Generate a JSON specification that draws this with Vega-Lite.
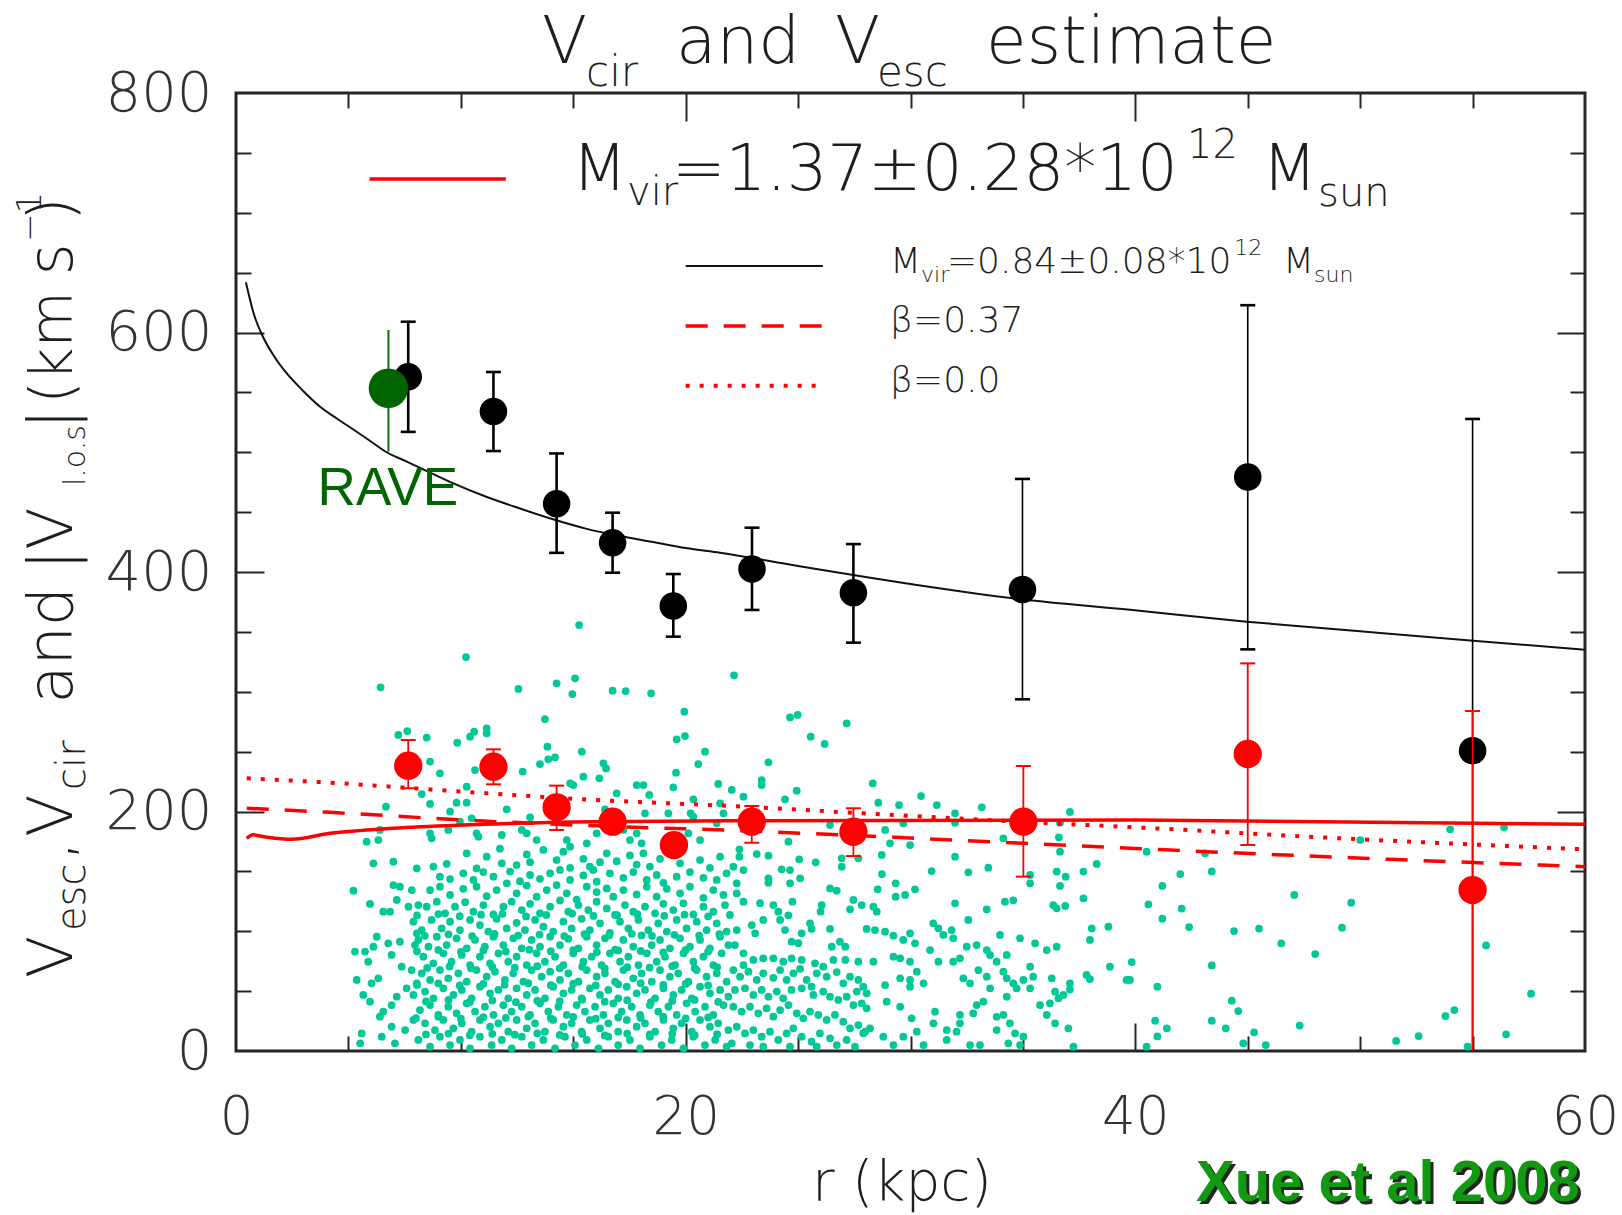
{
  "$schema": "https://vega.github.io/schema/vega-lite/v6.json",
  "width": 1349,
  "height": 958,
  "autosize": {"type": "none"},
  "padding": {"left": 236, "top": 93, "right": 37, "bottom": 164},
  "background": "white",
  "data": {"values": [{}]},
  "config": {
    "view": {"stroke": "#262626", "strokeWidth": 3},
    "text": {"font": "DejaVu Sans", "fontWeight": 200, "color": "#1e1e1e", "align": "left", "baseline": "alphabetic"}
  },
  "resolve": {"axis": {"x": "independent", "y": "independent"}},
  "datasets": {
    "stars": [
      {"r":54.0,"v":185.1},{"r":56.4,"v":186.8},{"r":50.0,"v":176.2},{"r":40.5,"v":166.4},{"r":43.1,"v":165.1},{"r":42.0,"v":147.8},{"r":43.4,"v":150.0},{"r":41.2,"v":137.8},{"r":47.07,"v":130.3},{"r":40.58,"v":122.5},{"r":42.06,"v":118.9},{"r":49.6,"v":123.9},{"r":41.2,"v":110.5},{"r":42.39,"v":103.5},{"r":49.19,"v":103.0},{"r":44.39,"v":100.2},{"r":45.5,"v":102.2},{"r":46.49,"v":89.9},{"r":48.0,"v":81.0},{"r":55.6,"v":88.2},{"r":39.84,"v":74.3},{"r":39.76,"v":59.3},{"r":43.4,"v":71.5},{"r":40.98,"v":53.7},{"r":57.6,"v":47.9},{"r":44.29,"v":42.0},{"r":44.58,"v":33.4},{"r":40.88,"v":25.3},{"r":43.4,"v":25.3},{"r":41.4,"v":18.9},{"r":40.98,"v":12.2},{"r":44.02,"v":18.9},{"r":45.28,"v":15.6},{"r":47.31,"v":21.2},{"r":44.8,"v":6.4},{"r":45.8,"v":5.0},{"r":40.5,"v":3.6},{"r":53.79,"v":29.2},{"r":54.19,"v":34.2},{"r":51.6,"v":8.4},{"r":52.6,"v":12.5},{"r":56.49,"v":13.9},{"r":54.78,"v":3.6},
      {"r":22.15,"v":313.7},{"r":24.64,"v":278.6},{"r":24.98,"v":280.6},{"r":27.16,"v":273.6},{"r":25.56,"v":262.5},{"r":26.18,"v":256.4},{"r":23.68,"v":241.1},{"r":23.38,"v":226.3},{"r":23.38,"v":222.1},{"r":28.32,"v":223.5},{"r":22.05,"v":218},{"r":24.94,"v":217.4},{"r":22.57,"v":212.4},{"r":24.42,"v":210.2},{"r":30.47,"v":212.9},{"r":28.57,"v":207.4},{"r":29.49,"v":205.4},{"r":31.17,"v":205.4},{"r":33.17,"v":203.5},{"r":37.09,"v":199.6},{"r":31.98,"v":198.5},{"r":26.42,"v":188.7},{"r":28.87,"v":184.6},{"r":29.68,"v":190.1},{"r":31.98,"v":190.7},{"r":36.65,"v":190.7},{"r":36.6,"v":178.4},{"r":34.13,"v":177.6},{"r":24.57,"v":174.8},{"r":29.09,"v":173.4},{"r":29.98,"v":172.0},{"r":31.98,"v":162.3},{"r":36.65,"v":166.4},{"r":28.72,"v":163.7},{"r":27.68,"v":160.9},{"r":26.94,"v":160.9},{"r":26.94,"v":153.9},{"r":38.28,"v":156.2},{"r":33.46,"v":153.1},{"r":30.94,"v":150.3},{"r":32.57,"v":149.2},{"r":36.5,"v":149.8},{"r":36.9,"v":145.6},{"r":36.65,"v":137.8},{"r":37.69,"v":149.8},{"r":35.32,"v":147.0},{"r":35.32,"v":140.0},{"r":28.73,"v":147.8},{"r":25.78,"v":157.6},{"r":25.05,"v":160.1},{"r":24.64,"v":151.1},{"r":24.27,"v":151.7},{"r":23.68,"v":163.1},{"r":23.16,"v":164.5},{"r":22.39,"v":168.4},{"r":22.39,"v":162.3},{"r":22.57,"v":151.1},{"r":22.12,"v":153.9},{"r":23.68,"v":144.2},{"r":23.68,"v":140.6},{"r":25.09,"v":144.2},{"r":24.64,"v":140.0},{"r":22.27,"v":140.0},{"r":22.27,"v":131.7},{"r":26.42,"v":135.8},{"r":26.72,"v":133.9},{"r":29.34,"v":140.0},{"r":30.2,"v":135.0},{"r":29.76,"v":130.3},{"r":28.54,"v":135.0},{"r":29.34,"v":128.9},{"r":27.46,"v":126.1},{"r":27.83,"v":121.9},{"r":28.35,"v":120.5},{"r":28.5,"v":116.3},{"r":26.05,"v":121.9},{"r":26.0,"v":116.3},{"r":27.31,"v":118.3},{"r":22.57,"v":124.7},{"r":23.31,"v":123.4},{"r":23.9,"v":121.9},{"r":24.12,"v":116.3},{"r":24.75,"v":124.7},{"r":24.57,"v":113.3},{"r":21.97,"v":113.6},{"r":31.98,"v":123.3},{"r":33.39,"v":118.3},{"r":34.2,"v":124.7},{"r":34.57,"v":125.8},{"r":36.35,"v":121.9},{"r":36.5,"v":119.2},{"r":36.88,"v":121.1},{"r":37.69,"v":127.5},{"r":32.57,"v":109.4},{"r":31.01,"v":106.6},{"r":31.24,"v":102.5},{"r":31.46,"v":96.9},{"r":31.83,"v":101.0},{"r":31.9,"v":94.1},{"r":29.98,"v":98.3},{"r":29.68,"v":92.7},{"r":30.2,"v":89.9},{"r":28.87,"v":99.6},{"r":29.24,"v":96.3},{"r":28.05,"v":101.9},{"r":28.42,"v":101.0},{"r":26.86,"v":91.3},{"r":27.1,"v":87.1},{"r":26.5,"v":87.1},{"r":26.42,"v":101.9},{"r":25.53,"v":106.6},{"r":25.6,"v":101.9},{"r":25.16,"v":98.3},{"r":25.01,"v":90.0},{"r":24.2,"v":109.4},{"r":24.42,"v":101.0},{"r":24.71,"v":91.3},{"r":22.94,"v":105.2},{"r":23.45,"v":109.4},{"r":23.09,"v":98.3},{"r":22.27,"v":101.0},{"r":22.19,"v":88.5},{"r":22.57,"v":81.6},{"r":33.98,"v":96.9},{"r":34.87,"v":94.1},{"r":34.28,"v":80.2},{"r":35.54,"v":89.9},{"r":36.06,"v":84.3},{"r":36.5,"v":87.1},{"r":37.98,"v":92.7},{"r":38.06,"v":102.4},{"r":38.8,"v":103.8},{"r":39.61,"v":59.3},{"r":38.87,"v":70.4},{"r":37.83,"v":63.5},{"r":37.98,"v":60.1},{"r":32.5,"v":87.1},{"r":32.94,"v":88.5},{"r":33.39,"v":84.3},{"r":33.54,"v":80.2},{"r":33.83,"v":74.6},{"r":32.2,"v":77.4},{"r":31.9,"v":74.6},{"r":31.24,"v":74.6},{"r":30.87,"v":84.3},{"r":29.24,"v":78.8},{"r":29.54,"v":77.4},{"r":29.98,"v":74.6},{"r":28.35,"v":74.6},{"r":27.68,"v":74.6},{"r":27.1,"v":76.0},{"r":26.57,"v":76.0},{"r":25.75,"v":73.2},{"r":26.12,"v":70.4},{"r":25.16,"v":76.0},{"r":24.71,"v":77.4},{"r":24.34,"v":74.6},{"r":23.9,"v":77.4},{"r":23.45,"v":77.4},{"r":23.01,"v":76.0},{"r":22.57,"v":71.8},
      {"r":34.13,"v":66.2},{"r":34.28,"v":60.7},{"r":34.57,"v":56.5},{"r":34.72,"v":52.4},{"r":34.28,"v":45.4},{"r":34.13,"v":30.1},{"r":34.42,"v":23.1},{"r":34.65,"v":14.8},{"r":35.02,"v":12.0},{"r":34.87,"v":5.0},{"r":34.35,"v":6.4},{"r":35.32,"v":70.4},{"r":35.46,"v":62.1},{"r":35.02,"v":59.3},{"r":35.32,"v":52.4},{"r":36.28,"v":60.7},{"r":36.43,"v":49.5},{"r":36.2,"v":39.8},{"r":36.58,"v":44.0},{"r":36.8,"v":46.8},{"r":37.09,"v":56.5},{"r":37.09,"v":51.4},{"r":35.76,"v":38.4},{"r":36.06,"v":30.1},{"r":36.43,"v":23.1},{"r":37.02,"v":18.9},{"r":37.25,"v":3.6},{"r":32.35,"v":60.7},{"r":32.65,"v":56.5},{"r":33.02,"v":67.6},{"r":33.39,"v":62.1},{"r":33.54,"v":52.4},{"r":33.24,"v":41.2},{"r":32.94,"v":38.4},{"r":32.79,"v":31.5},{"r":32.2,"v":30.1},{"r":32.2,"v":23.1},{"r":32.05,"v":16.1},{"r":31.61,"v":17.5},{"r":31.61,"v":9.2},{"r":32.65,"v":5.0},{"r":33.09,"v":5.0},{"r":33.83,"v":17.5},{"r":33.83,"v":28.6},{"r":29.98,"v":59.3},{"r":30.28,"v":66.2},{"r":30.58,"v":56.5},{"r":29.98,"v":53.7},{"r":29.54,"v":60.7},{"r":28.87,"v":55.1},{"r":28.94,"v":41.2},{"r":29.54,"v":37.0},{"r":30.05,"v":27.3},{"r":31.02,"v":23.1},{"r":31.09,"v":32.8},{"r":30.28,"v":16.1},{"r":29.68,"v":12.0},{"r":29.24,"v":5.0},{"r":30.58,"v":5.0},{"r":28.79,"v":12.0},{"r":28.2,"v":18.9},{"r":27.9,"v":14.8},
      {"r":22.12,"v":67.6},{"r":22.42,"v":62.1},{"r":22.79,"v":66.2},{"r":23.16,"v":59.3},{"r":23.45,"v":64.9},{"r":23.9,"v":61.1},{"r":24.2,"v":67.6},{"r":24.49,"v":59.3},{"r":24.79,"v":64.9},{"r":25.09,"v":68.6},{"r":25.38,"v":59.3},{"r":25.83,"v":64.9},{"r":26.27,"v":62.1},{"r":26.72,"v":65.9},{"r":27.01,"v":56.5},{"r":27.31,"v":62.1},{"r":27.68,"v":59.3},{"r":27.9,"v":53.7},{"r":27.61,"v":49.6},{"r":28.05,"v":48.2},
      {"r":22.19,"v":51.0},{"r":22.64,"v":52.4},{"r":23.01,"v":46.8},{"r":23.38,"v":51.0},{"r":23.68,"v":45.4},{"r":24.05,"v":49.6},{"r":24.34,"v":44.0},{"r":24.71,"v":51.0},{"r":25.16,"v":52.4},{"r":25.6,"v":53.7},{"r":25.68,"v":46.8},{"r":26.12,"v":49.6},{"r":26.42,"v":45.4},{"r":26.79,"v":42.6},{"r":27.16,"v":45.4},{"r":27.46,"v":38.4},{"r":27.83,"v":39.8},{"r":28.05,"v":35.6},
      {"r":22.12,"v":37.0},{"r":22.49,"v":32.9},{"r":22.86,"v":37.0},{"r":23.23,"v":31.5},{"r":23.6,"v":35.6},{"r":23.9,"v":28.7},{"r":24.2,"v":34.2},{"r":24.57,"v":38.4},{"r":24.94,"v":31.5},{"r":25.23,"v":27.3},{"r":25.53,"v":32.9},{"r":25.9,"v":30.1},{"r":26.27,"v":25.9},{"r":26.64,"v":30.1},{"r":27.01,"v":24.5},{"r":27.31,"v":18.9},{"r":27.68,"v":21.7},{"r":27.98,"v":16.1},
      {"r":22.27,"v":20.3},{"r":22.64,"v":14.7},{"r":23.01,"v":17.5},{"r":23.38,"v":12.0},{"r":23.75,"v":16.1},{"r":24.12,"v":9.2},{"r":24.49,"v":14.7},{"r":24.79,"v":18.9},{"r":25.16,"v":12.0},{"r":25.6,"v":7.8},{"r":25.97,"v":14.7},{"r":26.42,"v":10.6},{"r":26.72,"v":5.0},{"r":27.16,"v":9.2},{"r":27.53,"v":3.6},{"r":22.05,"v":6.4},{"r":22.86,"v":5.0},{"r":23.45,"v":3.6},{"r":24.64,"v":3.6},{"r":25.83,"v":3.6},
      {"r":15.26,"v":355.7},{"r":10.23,"v":329},{"r":6.43,"v":303.7},{"r":12.56,"v":302.3},{"r":14.26,"v":307},{"r":15.08,"v":311.2},{"r":14.96,"v":298.1},{"r":16.75,"v":300.9},{"r":17.33,"v":300.6},{"r":18.46,"v":298.7},{"r":13.74,"v":277.2},{"r":19.94,"v":283.4},{"r":19.97,"v":263},{"r":19.6,"v":260.3},{"r":7.22,"v":263.9},{"r":7.62,"v":267.2},{"r":8.48,"v":261.7},{"r":9.84,"v":257.5},{"r":10.41,"v":262.5},{"r":10.59,"v":266.6},{"r":11.15,"v":269.5},{"r":11.15,"v":265.3},{"r":13.85,"v":254.1},{"r":15.38,"v":250},{"r":20.86,"v":250},{"r":13.89,"v":243.6},{"r":14.19,"v":245.2},{"r":13.52,"v":239.6},{"r":20.56,"v":239.6},{"r":16.34,"v":240.2},{"r":16.46,"v":236},{"r":16.16,"v":227.7},{"r":15.45,"v":229.1},{"r":15.0,"v":222.1},{"r":14.86,"v":223.5},{"r":8.63,"v":241.6},{"r":9.07,"v":231.9},{"r":10.63,"v":234.6},{"r":12.75,"v":233.3},{"r":19.57,"v":232.4},{"r":21.45,"v":223},{"r":19.45,"v":220.2},{"r":17.82,"v":222.1},{"r":18.12,"v":222.1},{"r":18.38,"v":213.8},{"r":16.93,"v":215.2},{"r":8.26,"v":214.6},{"r":10.26,"v":220.7},{"r":9.81,"v":207.4},{"r":10.26,"v":207.4},{"r":8.63,"v":206.3},{"r":9.52,"v":199.9},{"r":6.67,"v":204},{"r":12.04,"v":201.8},{"r":13.08,"v":195.1},{"r":20.34,"v":210.2},{"r":19.23,"v":198.5},{"r":21.53,"v":206.8},{"r":16.41,"v":201.8},{"r":18.19,"v":198.5},{"r":20.22,"v":198.5},{"r":10.48,"v":194.3},{"r":9.96,"v":191.5},{"r":8.63,"v":181.8},{"r":8.7,"v":177.6},{"r":9.44,"v":184.6},{"r":6.4,"v":184.6},{"r":6.33,"v":176.2},{"r":5.81,"v":174.8},{"r":10.7,"v":181.8},{"r":10.78,"v":179},{"r":11.82,"v":180.4},{"r":12.71,"v":184.6},{"r":12.93,"v":181.8},{"r":13.37,"v":176.2},{"r":14.71,"v":176.2},{"r":14.86,"v":170.6},{"r":15.6,"v":173.4},{"r":16.04,"v":181.8},{"r":17.23,"v":184.6},{"r":17.52,"v":176.2},{"r":17.82,"v":181.8},{"r":18.04,"v":173.4},{"r":20.12,"v":181.8},{"r":20.64,"v":176.2},{"r":20.34,"v":195.7},{"r":21.38,"v":190.1},{"r":21.68,"v":198.5},
      {"r":6.11,"v":156.7},{"r":7.0,"v":158.1},{"r":5.22,"v":133.9},{"r":5.96,"v":122.8},{"r":6.55,"v":116.3},{"r":6.85,"v":116.3},{"r":7.0,"v":138.6},{"r":7.29,"v":137.2},{"r":7.15,"v":126.1},{"r":7.82,"v":134.4},{"r":8.04,"v":152.6},{"r":7.67,"v":120.5},{"r":8.11,"v":121.9},{"r":5.29,"v":83},{"r":5.74,"v":83},{"r":5.88,"v":74.6},{"r":6.26,"v":95.5},{"r":6.11,"v":87.1},{"r":5.37,"v":59.3},{"r":5.66,"v":46.8},{"r":6.03,"v":56.5},{"r":6.33,"v":60.7},{"r":5.96,"v":41.2},{"r":6.4,"v":28.7},{"r":6.55,"v":32.9},{"r":5.59,"v":14.7},{"r":5.52,"v":6.4},{"r":6.48,"v":12.0},{"r":6.92,"v":20.3},{"r":6.92,"v":38.4},{"r":7.15,"v":45.4},{"r":6.77,"v":89.9},{"r":6.92,"v":80.2},{"r":7.29,"v":91.3},{"r":7.37,"v":70.4},{"r":7.81,"v":67.6},{"r":8.04,"v":56.5},{"r":7.59,"v":52.4},{"r":7.89,"v":46.8},{"r":8.04,"v":98.3},{"r":7.96,"v":88.5},{"r":7.52,"v":17.5},{"r":7.89,"v":25.9},{"r":7.07,"v":6.4},
      {"r":10.26,"v":165.1},{"r":10.70,"v":152.5},{"r":11.15,"v":162.3},{"r":11.74,"v":168.9},{"r":11.82,"v":156.7},{"r":12.48,"v":155.3},{"r":12.93,"v":164.1},{"r":13.08,"v":157.7},{"r":13.67,"v":167.9},{"r":14.26,"v":159.5},{"r":14.56,"v":166.4},{"r":14.86,"v":153.0},{"r":15.45,"v":160.5},{"r":15.74,"v":154.0},{"r":16.19,"v":157.7},{"r":16.49,"v":165.1},{"r":16.93,"v":158.5},{"r":17.52,"v":163.3},{"r":17.82,"v":155.7},{"r":18.12,"v":165.1},{"r":18.41,"v":154.0},{"r":18.86,"v":160.5},{"r":19.16,"v":166.1},{"r":19.75,"v":156.7},{"r":20.64,"v":159.5},{"r":21.08,"v":153.0},{"r":21.53,"v":162.3},
      {"r":8.78,"v":154.0},{"r":9.37,"v":156.3},{"r":9.07,"v":145.6},{"r":9.52,"v":143.6},{"r":10.11,"v":148.4},{"r":10.56,"v":142.8},{"r":11.00,"v":149.4},{"r":11.45,"v":145.6},{"r":12.19,"v":149.8},{"r":12.63,"v":141.8},{"r":13.08,"v":147.0},{"r":13.52,"v":143.8},{"r":13.97,"v":148.4},{"r":14.41,"v":151.2},{"r":14.86,"v":142.8},{"r":15.45,"v":146.6},{"r":15.89,"v":151.2},{"r":16.04,"v":141.4},{"r":16.63,"v":148.4},{"r":17.23,"v":144.6},{"r":17.67,"v":149.4},{"r":18.27,"v":142.8},{"r":18.71,"v":147.0},{"r":19.01,"v":140.4},{"r":19.60,"v":145.6},{"r":20.19,"v":149.4},{"r":20.79,"v":144.6},{"r":21.38,"v":142.8},{"r":21.82,"v":148.4},
      {"r":8.63,"v":134.4},{"r":9.07,"v":137.2},{"r":9.52,"v":130.3},{"r":10.11,"v":135.4},{"r":10.70,"v":137.2},{"r":11.15,"v":129.3},{"r":11.59,"v":134.4},{"r":12.04,"v":140.0},{"r":12.48,"v":131.7},{"r":12.93,"v":138.2},{"r":13.37,"v":128.9},{"r":13.82,"v":134.4},{"r":14.26,"v":138.6},{"r":14.71,"v":131.7},{"r":15.15,"v":126.5},{"r":15.60,"v":137.2},{"r":16.04,"v":132.7},{"r":16.49,"v":135.8},{"r":16.78,"v":128.9},{"r":17.23,"v":134.4},{"r":17.82,"v":130.7},{"r":18.27,"v":137.2},{"r":18.71,"v":128.9},{"r":19.16,"v":135.4},{"r":19.75,"v":131.7},{"r":20.19,"v":137.2},{"r":20.79,"v":127.9},{"r":21.23,"v":134.4},{"r":21.68,"v":130.3},
      {"r":8.48,"v":120.5},{"r":8.93,"v":124.7},{"r":9.30,"v":115.0},{"r":9.74,"v":120.5},{"r":10.19,"v":124.3},{"r":10.56,"v":116.3},{"r":11.00,"v":121.9},{"r":11.45,"v":114.0},{"r":11.89,"v":120.5},{"r":12.26,"v":124.7},{"r":12.71,"v":117.7},{"r":13.08,"v":122.9},{"r":13.52,"v":115.0},{"r":13.97,"v":120.5},{"r":14.41,"v":125.7},{"r":14.78,"v":116.3},{"r":15.23,"v":121.9},{"r":15.67,"v":117.7},{"r":16.04,"v":124.7},{"r":16.49,"v":119.1},{"r":16.86,"v":113.6},{"r":17.30,"v":121.9},{"r":17.67,"v":116.3},{"r":18.19,"v":120.5},{"r":18.64,"v":115.0},{"r":19.01,"v":122.9},{"r":19.45,"v":117.7},{"r":19.90,"v":123.3},{"r":20.34,"v":114.0},{"r":20.79,"v":120.5},{"r":21.23,"v":116.3},{"r":21.75,"v":121.9},
      {"r":7.89,"v":108.0},{"r":8.26,"v":101.0},{"r":8.70,"v":109.4},{"r":9.15,"v":102.4},{"r":9.52,"v":108.0},{"r":9.96,"v":101.0},{"r":10.41,"v":109.4},{"r":10.85,"v":105.2},{"r":11.22,"v":99.7},{"r":11.59,"v":110.4},{"r":12.04,"v":102.4},{"r":12.48,"v":107.0},{"r":12.85,"v":101.0},{"r":13.30,"v":109.4},{"r":13.67,"v":103.8},{"r":14.11,"v":99.7},{"r":14.56,"v":108.0},{"r":14.93,"v":102.4},{"r":15.37,"v":110.4},{"r":15.74,"v":101.0},{"r":16.19,"v":106.6},{"r":16.63,"v":98.7},{"r":17.08,"v":108.0},{"r":17.45,"v":102.4},{"r":17.90,"v":109.4},{"r":18.34,"v":101.0},{"r":18.78,"v":106.6},{"r":19.16,"v":99.7},{"r":19.60,"v":109.4},{"r":20.04,"v":102.4},{"r":20.49,"v":108.0},{"r":20.93,"v":101.0},{"r":21.38,"v":106.6},{"r":21.82,"v":99.7},
      {"r":8.11,"v":92.7},{"r":8.56,"v":87.1},{"r":8.93,"v":95.5},{"r":9.37,"v":88.5},{"r":9.81,"v":94.1},{"r":10.26,"v":85.7},{"r":10.63,"v":92.7},{"r":11.07,"v":87.1},{"r":11.45,"v":95.5},{"r":11.89,"v":88.5},{"r":12.33,"v":94.1},{"r":12.71,"v":85.7},{"r":13.15,"v":92.7},{"r":13.52,"v":87.1},{"r":13.97,"v":95.5},{"r":14.41,"v":88.5},{"r":14.78,"v":93.7},{"r":15.23,"v":85.7},{"r":15.60,"v":95.5},{"r":16.04,"v":88.5},{"r":16.41,"v":94.1},{"r":16.86,"v":84.7},{"r":17.23,"v":92.7},{"r":17.67,"v":87.1},{"r":18.04,"v":96.5},{"r":18.49,"v":88.5},{"r":18.86,"v":92.7},{"r":19.30,"v":85.7},{"r":19.75,"v":94.1},{"r":20.19,"v":87.1},{"r":20.64,"v":92.7},{"r":21.08,"v":85.7},{"r":21.53,"v":95.5},{"r":21.90,"v":88.5},
      {"r":8.33,"v":78.8},{"r":8.78,"v":73.2},{"r":9.22,"v":81.6},{"r":9.59,"v":74.6},{"r":10.04,"v":80.2},{"r":10.41,"v":71.8},{"r":10.85,"v":78.8},{"r":11.30,"v":73.2},{"r":11.67,"v":81.6},{"r":12.11,"v":74.6},{"r":12.48,"v":78.8},{"r":12.93,"v":71.8},{"r":13.37,"v":81.6},{"r":13.74,"v":74.6},{"r":14.19,"v":78.8},{"r":14.56,"v":71.8},{"r":15.00,"v":81.6},{"r":15.45,"v":74.6},{"r":15.82,"v":78.8},{"r":16.26,"v":71.8},{"r":16.63,"v":81.6},{"r":17.08,"v":74.6},{"r":17.45,"v":78.8},{"r":17.90,"v":71.8},{"r":18.27,"v":81.6},{"r":18.71,"v":74.6},{"r":19.08,"v":78.8},{"r":19.53,"v":71.8},{"r":19.90,"v":81.6},{"r":20.34,"v":74.6},{"r":20.79,"v":78.8},{"r":21.23,"v":71.8},{"r":21.60,"v":81.6},
      {"r":8.26,"v":64.9},{"r":8.63,"v":59.3},{"r":9.07,"v":67.6},{"r":9.44,"v":60.7},{"r":9.89,"v":64.9},{"r":10.26,"v":57.9},{"r":10.70,"v":67.6},{"r":11.15,"v":62.1},{"r":11.52,"v":66.2},{"r":11.96,"v":59.3},{"r":12.33,"v":64.9},{"r":12.78,"v":57.9},{"r":13.15,"v":67.6},{"r":13.59,"v":62.1},{"r":13.97,"v":66.2},{"r":14.41,"v":59.3},{"r":14.78,"v":64.9},{"r":15.23,"v":57.9},{"r":15.60,"v":67.6},{"r":16.04,"v":62.1},{"r":16.41,"v":64.9},{"r":16.86,"v":57.9},{"r":17.23,"v":67.6},{"r":17.67,"v":60.7},{"r":18.04,"v":64.9},{"r":18.49,"v":57.9},{"r":18.86,"v":67.6},{"r":19.30,"v":62.1},{"r":19.67,"v":64.9},{"r":20.12,"v":57.9},{"r":20.49,"v":67.6},{"r":20.93,"v":62.1},{"r":21.38,"v":64.9},{"r":21.82,"v":57.9},
      {"r":8.41,"v":49.6},{"r":8.78,"v":44.0},{"r":9.22,"v":52.4},{"r":9.67,"v":46.8},{"r":10.04,"v":51.0},{"r":10.48,"v":44.0},{"r":10.85,"v":53.7},{"r":11.30,"v":48.2},{"r":11.67,"v":51.0},{"r":12.11,"v":44.0},{"r":12.48,"v":52.4},{"r":12.93,"v":46.8},{"r":13.30,"v":51.0},{"r":13.74,"v":44.0},{"r":14.11,"v":53.7},{"r":14.56,"v":48.2},{"r":14.93,"v":51.0},{"r":15.37,"v":44.0},{"r":15.74,"v":52.4},{"r":16.19,"v":46.8},{"r":16.56,"v":51.0},{"r":17.00,"v":44.0},{"r":17.38,"v":53.7},{"r":17.82,"v":48.2},{"r":18.19,"v":51.0},{"r":18.64,"v":44.0},{"r":19.01,"v":52.4},{"r":19.45,"v":46.8},{"r":19.82,"v":51.0},{"r":20.27,"v":44.0},{"r":20.64,"v":53.7},{"r":21.08,"v":48.2},{"r":21.53,"v":51.0},{"r":21.90,"v":45.4},
      {"r":8.18,"v":34.2},{"r":8.63,"v":38.4},{"r":9.00,"v":30.1},{"r":9.44,"v":37.0},{"r":9.81,"v":31.5},{"r":10.26,"v":39.8},{"r":10.63,"v":32.9},{"r":11.07,"v":37.0},{"r":11.45,"v":30.1},{"r":11.89,"v":38.4},{"r":12.26,"v":32.9},{"r":12.71,"v":37.0},{"r":13.08,"v":30.1},{"r":13.52,"v":39.8},{"r":13.89,"v":32.9},{"r":14.34,"v":37.0},{"r":14.71,"v":30.1},{"r":15.15,"v":38.4},{"r":15.52,"v":32.9},{"r":15.97,"v":37.0},{"r":16.34,"v":30.1},{"r":16.78,"v":39.8},{"r":17.15,"v":32.9},{"r":17.60,"v":37.0},{"r":17.97,"v":30.1},{"r":18.41,"v":38.4},{"r":18.78,"v":32.9},{"r":19.23,"v":37.0},{"r":19.60,"v":30.1},{"r":20.04,"v":39.8},{"r":20.42,"v":32.9},{"r":20.86,"v":37.0},{"r":21.23,"v":30.1},{"r":21.68,"v":38.4},
      {"r":8.41,"v":23.1},{"r":8.85,"v":17.5},{"r":9.22,"v":25.9},{"r":9.67,"v":18.9},{"r":10.04,"v":23.1},{"r":10.48,"v":16.1},{"r":10.85,"v":25.9},{"r":11.30,"v":20.3},{"r":11.67,"v":23.1},{"r":12.11,"v":16.1},{"r":12.48,"v":25.9},{"r":12.93,"v":18.9},{"r":13.30,"v":23.1},{"r":13.74,"v":16.1},{"r":14.11,"v":25.9},{"r":14.56,"v":20.3},{"r":14.93,"v":23.1},{"r":15.37,"v":16.1},{"r":15.74,"v":25.9},{"r":16.19,"v":18.9},{"r":16.56,"v":23.1},{"r":17.00,"v":16.1},{"r":17.38,"v":25.9},{"r":17.82,"v":20.3},{"r":18.19,"v":23.1},{"r":18.64,"v":16.1},{"r":19.01,"v":25.9},{"r":19.45,"v":18.9},{"r":19.82,"v":23.1},{"r":20.27,"v":16.1},{"r":20.64,"v":25.9},{"r":21.08,"v":20.3},{"r":21.45,"v":23.1},{"r":21.90,"v":17.5},
      {"r":8.11,"v":9.2},{"r":8.63,"v":3.6},{"r":9.07,"v":12.0},{"r":9.52,"v":5.0},{"r":9.96,"v":9.2},{"r":10.41,"v":2.2},{"r":10.85,"v":12.0},{"r":11.37,"v":5.0},{"r":11.82,"v":9.2},{"r":12.26,"v":2.2},{"r":12.71,"v":12.0},{"r":13.15,"v":5.0},{"r":13.67,"v":9.2},{"r":14.19,"v":2.2},{"r":14.63,"v":12.0},{"r":15.08,"v":5.0},{"r":15.60,"v":9.2},{"r":16.12,"v":2.2},{"r":16.56,"v":12.0},{"r":17.00,"v":5.0},{"r":17.52,"v":9.2},{"r":17.97,"v":2.2},{"r":18.41,"v":12.0},{"r":18.93,"v":5.0},{"r":19.38,"v":9.2},{"r":19.90,"v":2.2},{"r":20.34,"v":12.0},{"r":20.86,"v":5.0},{"r":21.31,"v":9.2},{"r":21.82,"v":3.6},
      {"r":8.05,"v":113.2},{"r":9.0,"v":114.4},{"r":9.95,"v":112.6},{"r":10.9,"v":113.8},{"r":11.85,"v":114.6},{"r":12.9,"v":112.4},{"r":13.8,"v":113.6},{"r":14.95,"v":114.8},{"r":15.9,"v":112.8},{"r":16.95,"v":113.4},{"r":17.85,"v":114.2},{"r":19.05,"v":112.9},{"r":19.95,"v":113.8},{"r":21.0,"v":112.5},
      {"r":8.4,"v":96.2},{"r":9.45,"v":97.4},{"r":10.5,"v":96.0},{"r":11.5,"v":97.8},{"r":12.55,"v":96.4},{"r":13.5,"v":97.2},{"r":14.6,"v":96.0},{"r":15.5,"v":97.6},{"r":16.6,"v":96.6},{"r":17.6,"v":97.9},{"r":18.5,"v":96.2},{"r":19.5,"v":97.0},{"r":20.6,"v":96.4},{"r":21.5,"v":97.6},
      {"r":8.05,"v":83.2},{"r":9.0,"v":84.4},{"r":10.0,"v":82.8},{"r":11.0,"v":84.0},{"r":12.0,"v":83.0},{"r":13.05,"v":84.6},{"r":14.0,"v":83.4},{"r":15.0,"v":84.2},{"r":16.05,"v":82.6},{"r":17.0,"v":84.0},{"r":18.0,"v":83.6},{"r":19.0,"v":82.4},{"r":20.0,"v":84.4},{"r":21.0,"v":83.0},
      {"r":8.5,"v":69.4},{"r":9.5,"v":70.6},{"r":10.45,"v":69.0},{"r":11.4,"v":70.2},{"r":12.4,"v":69.6},{"r":13.4,"v":70.8},{"r":14.4,"v":69.2},{"r":15.4,"v":70.4},{"r":16.4,"v":69.0},{"r":17.4,"v":70.0},{"r":18.4,"v":69.6},{"r":19.4,"v":70.8},{"r":20.4,"v":69.2},{"r":21.4,"v":70.0},
      {"r":8.05,"v":55.2},{"r":9.0,"v":56.4},{"r":9.95,"v":54.8},{"r":11.0,"v":56.0},{"r":11.95,"v":55.4},{"r":13.0,"v":56.6},{"r":14.0,"v":55.0},{"r":15.0,"v":56.2},{"r":16.0,"v":54.8},{"r":17.0,"v":55.8},{"r":18.0,"v":56.6},{"r":19.0,"v":55.2},{"r":20.0,"v":56.0},{"r":21.0,"v":54.8},
      {"r":8.45,"v":41.4},{"r":9.45,"v":42.6},{"r":10.4,"v":41.0},{"r":11.4,"v":42.2},{"r":12.45,"v":40.8},{"r":13.4,"v":42.0},{"r":14.4,"v":41.6},{"r":15.4,"v":42.8},{"r":16.4,"v":41.2},{"r":17.4,"v":42.4},{"r":18.45,"v":40.8},{"r":19.4,"v":41.8},{"r":20.4,"v":42.6},{"r":21.45,"v":41.0},
      {"r":8.0,"v":27.4},{"r":9.0,"v":28.6},{"r":10.0,"v":27.0},{"r":11.0,"v":28.2},{"r":12.0,"v":27.6},{"r":13.0,"v":28.8},{"r":14.0,"v":27.2},{"r":15.0,"v":28.4},{"r":16.0,"v":27.0},{"r":17.0,"v":28.0},{"r":18.0,"v":27.6},{"r":19.0,"v":28.8},{"r":20.0,"v":27.2},{"r":21.0,"v":28.0},
      {"r":8.45,"v":13.8},{"r":9.45,"v":14.6},{"r":10.4,"v":13.2},{"r":11.4,"v":14.4},{"r":12.4,"v":13.6},{"r":13.4,"v":14.8},{"r":14.4,"v":13.4},{"r":15.4,"v":14.2},{"r":16.4,"v":13.0},{"r":17.4,"v":14.6},{"r":18.4,"v":13.8},{"r":19.4,"v":14.4},{"r":20.4,"v":13.2},{"r":21.4,"v":14.0}
    ],
    "vcirModel": [
      {"r":0.44,"v":642},{"r":0.8,"v":615},{"r":1.21,"v":596},{"r":1.7,"v":580},{"r":2.25,"v":566},{"r":3.0,"v":551},{"r":3.74,"v":538},{"r":4.5,"v":528},{"r":5.22,"v":519},{"r":6.0,"v":509},{"r":6.7,"v":500},{"r":7.5,"v":493},{"r":8.19,"v":487},{"r":9.67,"v":474},{"r":11.1,"v":463},{"r":12.63,"v":453},{"r":14.1,"v":444},{"r":15.6,"v":436},{"r":17.1,"v":430},{"r":18.56,"v":425},{"r":20.0,"v":420},{"r":21.53,"v":416},{"r":25.0,"v":405},{"r":30.0,"v":390},{"r":35.0,"v":377},{"r":39.76,"v":368.5},{"r":44.95,"v":358.5},{"r":50.0,"v":350.5},{"r":55.03,"v":342.6},{"r":60.0,"v":335}
    ],
    "vescFit": [
      {"r":0.48,"v":177.6},{"r":0.75,"v":180.5},{"r":1.4,"v":178.5},{"r":2.46,"v":176.8},{"r":4.18,"v":181.8},{"r":7.0,"v":186.0},{"r":10.11,"v":188.7},{"r":16.04,"v":191.5},{"r":21.97,"v":192.3},{"r":39.76,"v":192.9},{"r":60.0,"v":189.3}
    ],
    "vescBeta37": [
      {"r":0.48,"v":202.7},{"r":4.18,"v":199.3},{"r":10.11,"v":192.9},{"r":16.0,"v":188.0},{"r":21.97,"v":184.3},{"r":29.38,"v":178.4},{"r":39.76,"v":169.3},{"r":51.3,"v":160.1},{"r":60.0,"v":153.9}
    ],
    "vescBeta0": [
      {"r":0.48,"v":227.7},{"r":4.18,"v":224.1},{"r":10.11,"v":216.5},{"r":16.04,"v":209.6},{"r":21.97,"v":204.6},{"r":27.9,"v":198.5},{"r":33.8,"v":192.5},{"r":39.76,"v":187.0},{"r":50.0,"v":176.8},{"r":60.0,"v":168.4}
    ],
    "vcir": [
      {"r":7.66,"v":563,"lo":517,"hi":609},{"r":11.45,"v":534,"lo":501,"hi":567},{"r":14.26,"v":457,"lo":416,"hi":499},{"r":16.75,"v":424.5,"lo":399.4,"hi":449.5},{"r":19.45,"v":371.6,"lo":346,"hi":398.3},{"r":22.95,"v":402.5,"lo":368.3,"hi":437},{"r":27.46,"v":382.7,"lo":341,"hi":423.3},{"r":34.98,"v":385.3,"lo":293.7,"hi":477.7},{"r":45.0,"v":479.4,"lo":335.4,"hi":622.8},{"r":55.0,"v":250.8,"lo":0,"hi":527.8}
    ],
    "vesc": [
      {"r":7.66,"v":238.3,"lo":219.4,"hi":259.7},{"r":11.45,"v":237.4,"lo":222.7,"hi":251.9},{"r":14.26,"v":203.5,"lo":184.6,"hi":221.6},{"r":16.75,"v":191.5,"lo":183,"hi":200},{"r":19.48,"v":172,"lo":164,"hi":180},{"r":22.94,"v":191.5,"lo":174,"hi":204.6},{"r":27.46,"v":183.1,"lo":162.8,"hi":202.7},{"r":35.02,"v":191.5,"lo":145.6,"hi":238},{"r":45.0,"v":248,"lo":172,"hi":323.7},{"r":55.0,"v":134.4,"lo":0,"hi":283.9}
    ],
    "rave": [
      {"r":6.78,"v":553.4,"lo":500.5,"hi":602.1}
    ]
  },
  "layer": [
    {
      "data": {"name": "stars"},
      "mark": {"type": "circle", "size": 60, "opacity": 1, "color": "#00c896"},
      "encoding": {
        "x": {"field": "r", "type": "quantitative", "scale": {"domain": [0, 60], "nice": false, "zero": false},
              "axis": {"orient": "bottom", "values": [0, 20, 40, 60], "ticks": false, "domain": false, "grid": false, "title": null,
                       "labelFont": "DejaVu Sans", "labelFontWeight": 200, "labelFontSize": 53, "labelColor": "#333333",
                       "labelPadding": 40, "labelFlush": false, "labelOverlap": false, "labelBound": false}},
        "y": {"field": "v", "type": "quantitative", "scale": {"domain": [0, 800], "nice": false, "zero": false},
              "axis": {"orient": "left", "values": [0, 200, 400, 600, 800], "ticks": false, "domain": false, "grid": false, "title": null,
                       "labelFont": "DejaVu Sans", "labelFontWeight": 200, "labelFontSize": 56, "labelColor": "#333333",
                       "labelPadding": 24, "labelFlush": false, "labelOverlap": false, "labelBound": false}}
      }
    },
    {
      "data": {"name": "vcirModel"},
      "mark": {"type": "line", "color": "#111111", "strokeWidth": 2, "interpolate": "monotone"},
      "encoding": {
        "x": {"field": "r", "type": "quantitative",
              "axis": {"orient": "bottom", "values": [20, 40], "labels": false, "domain": false, "grid": false, "title": null, "tickSize": -28, "tickWidth": 2, "tickColor": "#262626"}},
        "y": {"field": "v", "type": "quantitative",
              "axis": {"orient": "left", "values": [200, 400, 600], "labels": false, "domain": false, "grid": false, "title": null, "tickSize": -28, "tickWidth": 2, "tickColor": "#262626"}}
      }
    },
    {
      "data": {"name": "vescFit"},
      "mark": {"type": "line", "color": "#ff0000", "strokeWidth": 3.5, "interpolate": "monotone"},
      "encoding": {
        "x": {"field": "r", "type": "quantitative",
              "axis": {"orient": "bottom", "values": [5, 10, 15, 25, 30, 35, 45, 50, 55], "labels": false, "domain": false, "grid": false, "title": null, "tickSize": -15, "tickWidth": 2, "tickColor": "#262626"}},
        "y": {"field": "v", "type": "quantitative",
              "axis": {"orient": "left", "values": [50, 100, 150, 250, 300, 350, 450, 500, 550, 650, 700, 750], "labels": false, "domain": false, "grid": false, "title": null, "tickSize": -15, "tickWidth": 2, "tickColor": "#262626"}}
      }
    },
    {
      "data": {"name": "vescBeta37"},
      "mark": {"type": "line", "color": "#ff0000", "strokeWidth": 3.5, "strokeDash": [22, 16], "interpolate": "monotone"},
      "encoding": {
        "x": {"field": "r", "type": "quantitative",
              "axis": {"orient": "top", "values": [20, 40], "labels": false, "domain": false, "grid": false, "title": null, "tickSize": -28, "tickWidth": 2, "tickColor": "#262626"}},
        "y": {"field": "v", "type": "quantitative",
              "axis": {"orient": "right", "values": [200, 400, 600], "labels": false, "domain": false, "grid": false, "title": null, "tickSize": -28, "tickWidth": 2, "tickColor": "#262626"}}
      }
    },
    {
      "data": {"name": "vescBeta0"},
      "mark": {"type": "line", "color": "#ff0000", "strokeWidth": 4, "strokeDash": [4, 10], "interpolate": "monotone"},
      "encoding": {
        "x": {"field": "r", "type": "quantitative",
              "axis": {"orient": "top", "values": [5, 10, 15, 25, 30, 35, 45, 50, 55], "labels": false, "domain": false, "grid": false, "title": null, "tickSize": -15, "tickWidth": 2, "tickColor": "#262626"}},
        "y": {"field": "v", "type": "quantitative",
              "axis": {"orient": "right", "values": [50, 100, 150, 250, 300, 350, 450, 500, 550, 650, 700, 750], "labels": false, "domain": false, "grid": false, "title": null, "tickSize": -15, "tickWidth": 2, "tickColor": "#262626"}}
      }
    },
    {
      "data": {"name": "vcir"},
      "transform": [{"filter": "datum.r < 30"}],
      "mark": {"type": "rule", "color": "#000000", "strokeWidth": 2.6},
      "encoding": {
        "x": {"field": "r", "type": "quantitative", "axis": null},
        "y": {"field": "lo", "type": "quantitative", "axis": null},
        "y2": {"field": "hi"}
      }
    },
    {
      "data": {"name": "vcir"},
      "transform": [{"filter": "datum.r >= 30"}],
      "mark": {"type": "rule", "color": "#000000", "strokeWidth": 1.6},
      "encoding": {
        "x": {"field": "r", "type": "quantitative", "axis": null},
        "y": {"field": "lo", "type": "quantitative", "axis": null},
        "y2": {"field": "hi"}
      }
    },
    {
      "data": {"name": "vcir"},
      "mark": {"type": "tick", "orient": "horizontal", "color": "#000000", "size": 15, "thickness": 2.6, "opacity": 1},
      "encoding": {
        "x": {"field": "r", "type": "quantitative", "axis": null},
        "y": {"field": "hi", "type": "quantitative", "axis": null}
      }
    },
    {
      "data": {"name": "vcir"},
      "transform": [{"filter": "datum.lo > 0"}],
      "mark": {"type": "tick", "orient": "horizontal", "color": "#000000", "size": 15, "thickness": 2.6, "opacity": 1},
      "encoding": {
        "x": {"field": "r", "type": "quantitative", "axis": null},
        "y": {"field": "lo", "type": "quantitative", "axis": null}
      }
    },
    {
      "data": {"name": "vcir"},
      "mark": {"type": "circle", "size": 760, "opacity": 1, "color": "#000000"},
      "encoding": {
        "x": {"field": "r", "type": "quantitative", "axis": null},
        "y": {"field": "v", "type": "quantitative", "axis": null}
      }
    },
    {
      "data": {"name": "vesc"},
      "mark": {"type": "rule", "color": "#ff0000", "strokeWidth": 1.8},
      "encoding": {
        "x": {"field": "r", "type": "quantitative", "axis": null},
        "y": {"field": "lo", "type": "quantitative", "axis": null},
        "y2": {"field": "hi"}
      }
    },
    {
      "data": {"name": "vesc"},
      "mark": {"type": "tick", "orient": "horizontal", "color": "#ff0000", "size": 15, "thickness": 2, "opacity": 1},
      "encoding": {
        "x": {"field": "r", "type": "quantitative", "axis": null},
        "y": {"field": "hi", "type": "quantitative", "axis": null}
      }
    },
    {
      "data": {"name": "vesc"},
      "transform": [{"filter": "datum.lo > 0"}],
      "mark": {"type": "tick", "orient": "horizontal", "color": "#ff0000", "size": 15, "thickness": 2, "opacity": 1},
      "encoding": {
        "x": {"field": "r", "type": "quantitative", "axis": null},
        "y": {"field": "lo", "type": "quantitative", "axis": null}
      }
    },
    {
      "data": {"name": "vesc"},
      "mark": {"type": "circle", "size": 800, "opacity": 1, "color": "#ff0000"},
      "encoding": {
        "x": {"field": "r", "type": "quantitative", "axis": null},
        "y": {"field": "v", "type": "quantitative", "axis": null}
      }
    },
    {
      "data": {"name": "rave"},
      "mark": {"type": "rule", "color": "#0a700a", "strokeWidth": 2},
      "encoding": {
        "x": {"field": "r", "type": "quantitative", "axis": null},
        "y": {"field": "lo", "type": "quantitative", "axis": null},
        "y2": {"field": "hi"}
      }
    },
    {
      "data": {"name": "rave"},
      "mark": {"type": "circle", "size": 1560, "opacity": 1, "color": "#006400"},
      "encoding": {
        "x": {"field": "r", "type": "quantitative", "axis": null},
        "y": {"field": "v", "type": "quantitative", "axis": null}
      }
    },
    {
      "mark": {"type": "text", "text": "RAVE", "font": "Liberation Sans", "fontWeight": "normal", "fontSize": 53, "color": "#006400"},
      "encoding": {"x": {"datum": 3.63, "axis": null}, "y": {"datum": 456.1, "axis": null}}
    },
    {
      "mark": {"type": "rule", "color": "#ff0000", "strokeWidth": 3.5},
      "encoding": {"x": {"datum": 5.94, "axis": null}, "x2": {"datum": 12.0}, "y": {"datum": 728.2, "axis": null}}
    },
    {
      "mark": {"type": "rule", "color": "#111111", "strokeWidth": 2},
      "encoding": {"x": {"datum": 20.0, "axis": null}, "x2": {"datum": 26.1}, "y": {"datum": 655.5, "axis": null}}
    },
    {
      "mark": {"type": "rule", "color": "#ff0000", "strokeWidth": 3.5, "strokeDash": [22, 16]},
      "encoding": {"x": {"datum": 20.0, "axis": null}, "x2": {"datum": 26.1}, "y": {"datum": 605.4, "axis": null}}
    },
    {
      "mark": {"type": "rule", "color": "#ff0000", "strokeWidth": 4, "strokeDash": [4, 10]},
      "encoding": {"x": {"datum": 20.0, "axis": null}, "x2": {"datum": 26.1}, "y": {"datum": 555.6, "axis": null}}
    },
    {"mark": {"type": "text", "text": "M", "fontSize": 64}, "encoding": {"x": {"datum": 14.94, "axis": null}, "y": {"datum": 719.0, "axis": null}}},
    {"mark": {"type": "text", "text": "vir", "fontSize": 40}, "encoding": {"x": {"datum": 17.39, "axis": null}, "y": {"datum": 706.5, "axis": null}}},
    {"mark": {"type": "text", "text": "=1.37±0.28*10", "fontSize": 64}, "encoding": {"x": {"datum": 19.39, "axis": null}, "y": {"datum": 719.0, "axis": null}}},
    {"mark": {"type": "text", "text": "12", "fontSize": 40}, "encoding": {"x": {"datum": 42.3, "axis": null}, "y": {"datum": 745.7, "axis": null}}},
    {"mark": {"type": "text", "text": "M", "fontSize": 64}, "encoding": {"x": {"datum": 45.63, "axis": null}, "y": {"datum": 719.0, "axis": null}}},
    {"mark": {"type": "text", "text": "sun", "fontSize": 40}, "encoding": {"x": {"datum": 48.13, "axis": null}, "y": {"datum": 705.7, "axis": null}}},
    {"mark": {"type": "text", "text": "M", "fontSize": 36}, "encoding": {"x": {"datum": 29.09, "axis": null}, "y": {"datum": 649.4, "axis": null}}},
    {"mark": {"type": "text", "text": "vir", "fontSize": 22}, "encoding": {"x": {"datum": 30.47, "axis": null}, "y": {"datum": 642.4, "axis": null}}},
    {"mark": {"type": "text", "text": "=0.84±0.08*10", "fontSize": 36}, "encoding": {"x": {"datum": 31.62, "axis": null}, "y": {"datum": 649.4, "axis": null}}},
    {"mark": {"type": "text", "text": "12", "fontSize": 22}, "encoding": {"x": {"datum": 44.4, "axis": null}, "y": {"datum": 664.9, "axis": null}}},
    {"mark": {"type": "text", "text": "M", "fontSize": 36}, "encoding": {"x": {"datum": 46.57, "axis": null}, "y": {"datum": 649.4, "axis": null}}},
    {"mark": {"type": "text", "text": "sun", "fontSize": 22}, "encoding": {"x": {"datum": 47.95, "axis": null}, "y": {"datum": 642.4, "axis": null}}},
    {"mark": {"type": "text", "text": "β=0.37", "fontSize": 36}, "encoding": {"x": {"datum": 29.09, "axis": null}, "y": {"datum": 600.7, "axis": null}}},
    {"mark": {"type": "text", "text": "β=0.0", "fontSize": 36}, "encoding": {"x": {"datum": 29.09, "axis": null}, "y": {"datum": 550.6, "axis": null}}},
    {"mark": {"type": "text", "text": "V", "fontSize": 66}, "encoding": {"x": {"datum": 13.61, "axis": null}, "y": {"datum": 824.8, "axis": null}}},
    {"mark": {"type": "text", "text": "cir", "fontSize": 42}, "encoding": {"x": {"datum": 15.57, "axis": null}, "y": {"datum": 805.8, "axis": null}}},
    {"mark": {"type": "text", "text": "and", "fontSize": 66}, "encoding": {"x": {"datum": 19.57, "axis": null}, "y": {"datum": 824.8, "axis": null}}},
    {"mark": {"type": "text", "text": "V", "fontSize": 66}, "encoding": {"x": {"datum": 26.64, "axis": null}, "y": {"datum": 824.8, "axis": null}}},
    {"mark": {"type": "text", "text": "esc", "fontSize": 42}, "encoding": {"x": {"datum": 28.51, "axis": null}, "y": {"datum": 805.8, "axis": null}}},
    {"mark": {"type": "text", "text": "estimate", "fontSize": 66}, "encoding": {"x": {"datum": 33.36, "axis": null}, "y": {"datum": 824.8, "axis": null}}},
    {"mark": {"type": "text", "text": "r (kpc)", "fontSize": 55}, "encoding": {"x": {"datum": 25.62, "axis": null}, "y": {"datum": -124.4, "axis": null}}},
    {"mark": {"type": "text", "text": "V", "fontSize": 62, "angle": 270}, "encoding": {"x": {"datum": -7.29, "axis": null}, "y": {"datum": 61.0, "axis": null}}},
    {"mark": {"type": "text", "text": "esc", "fontSize": 40, "angle": 270}, "encoding": {"x": {"datum": -6.72, "axis": null}, "y": {"datum": 100.2, "axis": null}}},
    {"mark": {"type": "text", "text": ",", "fontSize": 62, "angle": 270}, "encoding": {"x": {"datum": -7.29, "axis": null}, "y": {"datum": 159.0, "axis": null}}},
    {"mark": {"type": "text", "text": "V", "fontSize": 62, "angle": 270}, "encoding": {"x": {"datum": -7.29, "axis": null}, "y": {"datum": 179.0, "axis": null}}},
    {"mark": {"type": "text", "text": "cir", "fontSize": 40, "angle": 270}, "encoding": {"x": {"datum": -6.72, "axis": null}, "y": {"datum": 218.0, "axis": null}}},
    {"mark": {"type": "text", "text": "and", "fontSize": 62, "angle": 270}, "encoding": {"x": {"datum": -7.29, "axis": null}, "y": {"datum": 290.2, "axis": null}}},
    {"mark": {"type": "text", "text": "|V", "fontSize": 62, "angle": 270}, "encoding": {"x": {"datum": -7.29, "axis": null}, "y": {"datum": 401.2, "axis": null}}},
    {"mark": {"type": "text", "text": "l.o.s", "fontSize": 30, "angle": 270}, "encoding": {"x": {"datum": -6.72, "axis": null}, "y": {"datum": 471.8, "axis": null}}},
    {"mark": {"type": "text", "text": "|", "fontSize": 62, "angle": 270}, "encoding": {"x": {"datum": -7.29, "axis": null}, "y": {"datum": 519.0, "axis": null}}},
    {"mark": {"type": "text", "text": "(km", "fontSize": 58, "angle": 270}, "encoding": {"x": {"datum": -7.29, "axis": null}, "y": {"datum": 540.5, "axis": null}}},
    {"mark": {"type": "text", "text": "s", "fontSize": 62, "angle": 270}, "encoding": {"x": {"datum": -7.29, "axis": null}, "y": {"datum": 647.5, "axis": null}}},
    {"mark": {"type": "text", "text": "−1", "fontSize": 34, "angle": 270}, "encoding": {"x": {"datum": -8.67, "axis": null}, "y": {"datum": 675.5, "axis": null}}},
    {"mark": {"type": "text", "text": ")", "fontSize": 62, "angle": 270}, "encoding": {"x": {"datum": -7.29, "axis": null}, "y": {"datum": 693.0, "axis": null}}},
    {"mark": {"type": "text", "text": "Xue et al 2008", "font": "Liberation Sans", "fontWeight": "bold", "fontSize": 58, "color": "#262626", "dx": 3, "dy": 3},
     "encoding": {"x": {"datum": 42.7, "axis": null}, "y": {"datum": -125.0, "axis": null}}},
    {"mark": {"type": "text", "text": "Xue et al 2008", "font": "Liberation Sans", "fontWeight": "bold", "fontSize": 58, "color": "#129912"},
     "encoding": {"x": {"datum": 42.7, "axis": null}, "y": {"datum": -125.0, "axis": null}}}
  ]
}
